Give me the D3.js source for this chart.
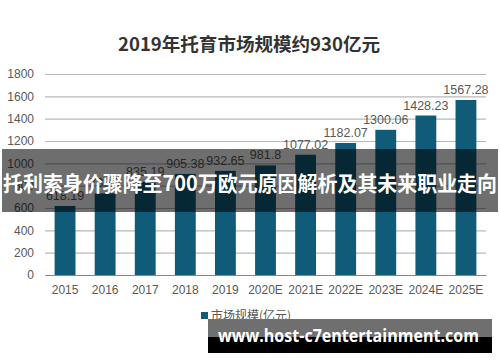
<!DOCTYPE html>
<html><head><meta charset="utf-8">
<script src="https://cdn.jsdelivr.net/npm/d3@7"></script>
<style>body{margin:0;background:#fff}svg{display:block}</style>
</head><body>
<script>
const categories = ["2015","2016","2017","2018","2019","2020E","2021E","2022E","2023E","2024E","2025E"];
const values = [618.19, 730.5, 835.19, 905.38, 932.65, 981.8, 1077.02, 1182.07, 1300.06, 1428.23, 1567.28];
const labels = ["618.19","730.5","835.19","905.38","932.65","981.8","1077.02","1182.07","1300.06","1428.23","1567.28"];
const yTicks = [0,200,400,600,800,1000,1200,1400,1600,1800];
const title = "2019年托育市场规模约930亿元";
const legendLabel = "市场规模(亿元)";
const bannerText = "托利索身价骤降至700万欧元原因解析及其未来职业走向";
const watermark = "www.host-c7entertainment.com";

const W = 500, H = 362;
const svg = d3.select("body").append("svg").attr("width", W).attr("height", H);
const font = "'Liberation Sans', Arial, 'Noto Sans CJK SC', sans-serif";

const x = d3.scaleBand().domain(categories).range([45, 486]).paddingInner(0.48).paddingOuter(0.24);
const y = d3.scaleLinear().domain([0, 1800]).range([275, 74]);

svg.append("text").attr("x", 249).attr("y", 51).attr("text-anchor", "middle")
  .attr("font-family", "'Noto Sans CJK SC', sans-serif").attr("font-weight", "bold")
  .attr("font-size", 18).attr("fill", "#333")
  .attr("textLength", 262).attr("lengthAdjust", "spacingAndGlyphs").text(title);

// grid
const yAxis = d3.axisLeft(y).tickValues(yTicks).tickFormat(d3.format("d")).tickSize(-441).tickPadding(11);
const gy = svg.append("g").attr("transform", "translate(45,0)").call(yAxis);
gy.select(".domain").remove();
gy.selectAll(".tick line").attr("stroke", "#b8b8b8").attr("stroke-width", 1.2);
gy.selectAll(".tick text").attr("font-family", font).attr("font-size", 12).attr("fill", "#595959");

// bars
svg.append("g").selectAll("rect").data(values).join("rect")
  .attr("x", (d, i) => x(categories[i])).attr("width", x.bandwidth())
  .attr("y", d => y(d)).attr("height", d => y(0) - y(d))
  .attr("fill", "#0f5b78");

svg.append("g").selectAll("text").data(values).join("text")
  .attr("x", (d, i) => x(categories[i]) + x.bandwidth() / 2)
  .attr("y", d => y(d) - 6).attr("text-anchor", "middle")
  .attr("font-family", font).attr("font-size", 12.5).attr("fill", "#595959")
  .text((d, i) => labels[i]);

// x axis
const gx = svg.append("g").attr("transform", "translate(0,275)")
  .call(d3.axisBottom(x).tickSize(0).tickPadding(10));
gx.select(".domain").attr("stroke", "#888").attr("stroke-width", 1.2);
gx.selectAll(".tick text").attr("font-family", font).attr("font-size", 12).attr("fill", "#595959");

// legend
svg.append("rect").attr("x", 201).attr("y", 312).attr("width", 7).attr("height", 7).attr("fill", "#0f5b78");
svg.append("text").attr("x", 211).attr("y", 320).attr("font-family", "'Noto Sans CJK SC', sans-serif")
  .attr("font-size", 12).attr("fill", "#595959").text(legendLabel);

// banner overlay
svg.append("rect").attr("x", 2).attr("y", 149).attr("width", 496).attr("height", 63)
  .attr("fill", "#000").attr("opacity", 0.57);
svg.append("text").attr("x", 250).attr("y", 191).attr("text-anchor", "middle")
  .attr("font-family", "'Noto Sans CJK SC', sans-serif").attr("font-weight", "bold")
  .attr("font-size", 21).attr("fill", "#fff")
  .attr("textLength", 494).attr("lengthAdjust", "spacingAndGlyphs").text(bannerText);

// watermark
svg.append("rect").attr("x", 208).attr("y", 319).attr("width", 284).attr("height", 18).attr("fill", "#6f6f6f");
svg.append("rect").attr("x", 208).attr("y", 337).attr("width", 284).attr("height", 16).attr("fill", "#000");
svg.append("text").attr("x", 218).attr("y", 342)
  .attr("font-family", "'Open Sans', 'DejaVu Sans', sans-serif").attr("font-weight", "bold")
  .attr("font-size", 17).attr("fill", "#fff")
  .attr("textLength", 261).attr("lengthAdjust", "spacingAndGlyphs").text(watermark);
</script>
</body></html>
